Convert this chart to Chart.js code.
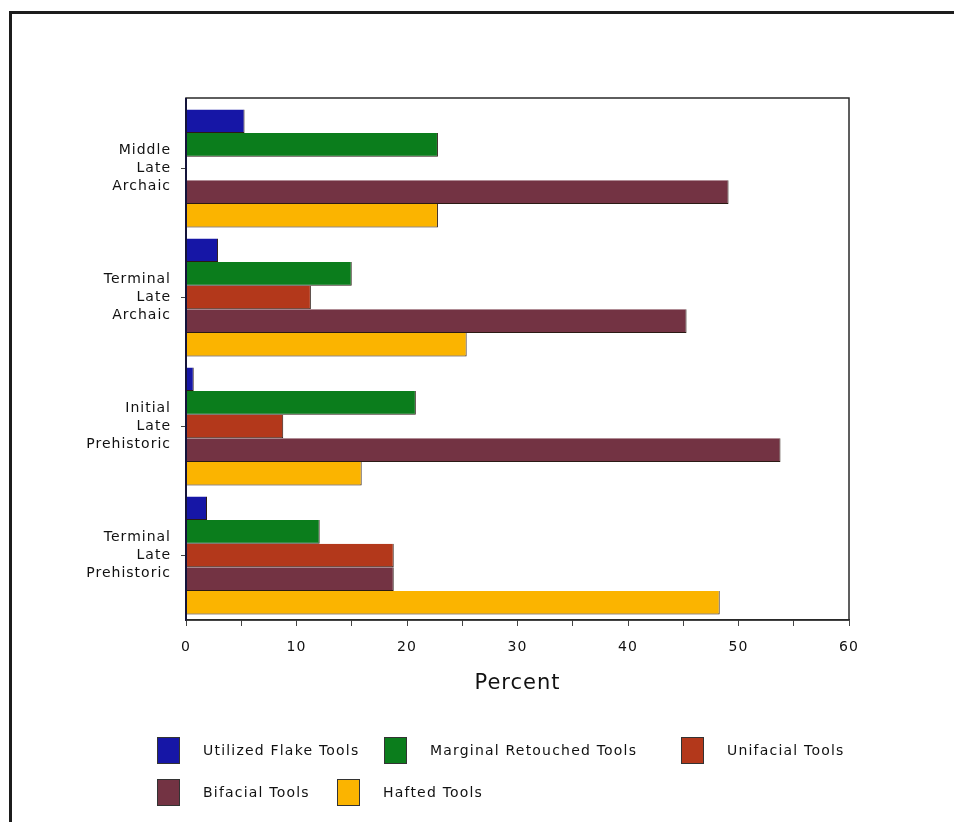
<!DOCTYPE html>
<html>
<head>
<meta charset="utf-8">
<script src="https://cdn.jsdelivr.net/npm/chart.js@4/dist/chart.umd.min.js"></script>
<style>
  html, body { margin: 0; padding: 0; background: #fff; }
  #wrap { position: relative; width: 954px; height: 822px; overflow: hidden; background: #fff; }
  #frame { position: absolute; left: 9px; top: 11px; width: 1000px; height: 900px;
           border-top: 3px solid #1c1c1c; border-left: 3px solid #1c1c1c; }
  #c { position: absolute; left: 0; top: 0; }
  #legend { position: absolute; left: 157px; top: 736px; width: 780px;
            font-family: "DejaVu Sans", sans-serif; font-size: 14px; letter-spacing: 1.2px; color: #111; }
  .row { display: flex; align-items: center; height: 28px; margin-bottom: 14px; }
  .item { display: flex; align-items: center; flex: none; }
  .box { width: 23px; height: 27px; box-sizing: border-box; border: 1px solid #333; margin-right: 23px; flex: none; }
</style>
</head>
<body>
<div id="wrap">
  <div id="frame"></div>
  <canvas id="c" width="954" height="822"></canvas>
  <div id="legend"></div>
</div>
<script>
const categories = [
  ["Middle", "Late", "Archaic"],
  ["Terminal", "Late", "Archaic"],
  ["Initial", "Late", "Prehistoric"],
  ["Terminal", "Late", "Prehistoric"]
];
const seriesNames = ["Utilized Flake Tools", "Marginal Retouched Tools", "Unifacial Tools", "Bifacial Tools", "Hafted Tools"];
const utilizedFlake = [5.3, 2.9, 0.7, 1.9];
const marginalRetouched = [22.8, 15.0, 20.8, 12.1];
const unifacial = [0, 11.3, 8.8, 18.8];
const bifacial = [49.1, 45.3, 53.8, 18.8];
const hafted = [22.8, 25.4, 15.9, 48.3];
const xTicks = [0, 10, 20, 30, 40, 50, 60];
const colors = ["#1616a6", "#0b7d1c", "#b3381b", "#733343", "#fbb400"];

const seriesValues = [utilizedFlake, marginalRetouched, unifacial, bifacial, hafted];

const spacing = {
  id: 'spacing',
  beforeDraw(chart) { chart.ctx.letterSpacing = '1px'; }
};

const frameBox = {
  id: 'frameBox',
  afterDraw(chart) {
    const a = chart.chartArea, ctx = chart.ctx;
    ctx.save();
    ctx.strokeStyle = '#2a2a2a';
    ctx.lineWidth = 1.5;
    ctx.strokeRect(a.left, a.top - 6, a.right - a.left, a.bottom - a.top + 6);
    ctx.beginPath();
    ctx.strokeStyle = '#14143a';
    ctx.lineWidth = 2;
    ctx.moveTo(a.left, a.top - 6);
    ctx.lineTo(a.left, a.bottom);
    ctx.stroke();
    ctx.restore();
  }
};

const chart = new Chart(document.getElementById('c'), {
  type: 'bar',
  data: {
    labels: categories,
    datasets: seriesNames.map((n, i) => ({
      label: n,
      data: seriesValues[i],
      backgroundColor: colors[i],
      borderColor: '#2b1a14',
      borderWidth: {top: 0, left: 0, right: 1, bottom: 1},
      borderSkipped: false,
      barPercentage: 1.0,
      categoryPercentage: 0.915
    }))
  },
  options: {
    indexAxis: 'y',
    responsive: false,
    animation: false,
    layout: { padding: { left: 10, right: 105, top: 104, bottom: 122 } },
    plugins: { legend: { display: false }, tooltip: { enabled: false } },
    scales: {
      x: {
        min: 0, max: 60,
        afterFit(s) { s.height = 80; },
        ticks: {
          stepSize: 5,
          autoSkip: false,
          maxRotation: 0,
          padding: 13,
          color: '#111',
          font: { family: 'DejaVu Sans', size: 14 },
          callback: (v) => xTicks.includes(v) ? String(v) : ''
        },
        grid: { drawOnChartArea: false, tickLength: 6, color: '#444', tickWidth: 1 },
        border: { color: '#2a2a2a', width: 1.5 },
        title: { display: true, text: 'Percent', color: '#111',
                 font: { family: 'DejaVu Sans', size: 21 }, padding: { top: 10, bottom: 4 } }
      },
      y: {
        afterFit(s) { s.width = 176; },
        ticks: {
          color: '#111',
          padding: 10,
          font: { family: 'DejaVu Sans', size: 14, lineHeight: 1.27 }
        },
        grid: { drawOnChartArea: false, offset: false, tickLength: 5, color: '#444' },
        border: { color: '#14143a', width: 2 }
      }
    }
  },
  plugins: [spacing, frameBox]
});

// HTML legend built from the datasets
const lg = document.getElementById('legend');
const rowsDef = [[0, 1, 2], [3, 4]];
const itemWidths = [[227, 297, 200], [180, 200]];
rowsDef.forEach((r, ri) => {
  const row = document.createElement('div');
  row.className = 'row';
  r.forEach((idx, k) => {
    const ds = chart.data.datasets[idx];
    const it = document.createElement('div');
    it.className = 'item';
    it.style.width = itemWidths[ri][k] + 'px';
    const b = document.createElement('div');
    b.className = 'box';
    b.style.background = ds.backgroundColor;
    const t = document.createElement('span');
    t.textContent = ds.label;
    it.appendChild(b); it.appendChild(t);
    row.appendChild(it);
  });
  lg.appendChild(row);
});
</script>
</body>
</html>
